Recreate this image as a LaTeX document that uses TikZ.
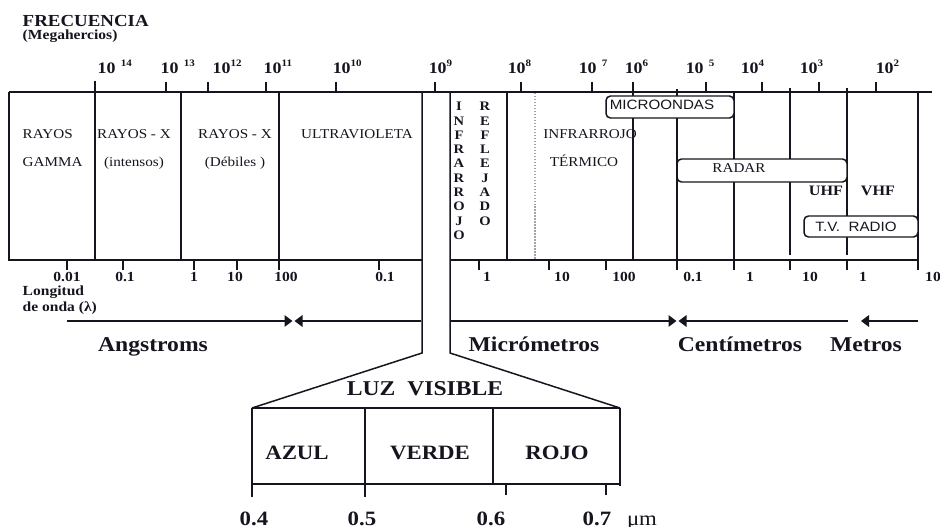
\documentclass[tikz,border=0pt]{standalone}
\usepackage{fontspec}
\setmainfont[FakeStretch=1.12]{Liberation Serif}
\newfontfamily\boxfont[FakeStretch=1.12]{Liberation Sans}
\usepackage{tikz}
\usetikzlibrary{arrows.meta,positioning,calc}
\definecolor{Ink}{HTML}{15151F}
\definecolor{DotGray}{HTML}{A0A4AA}
\newcommand\expo[1]{\raisebox{4.1pt}{\fontsize{5.6}{6}\selectfont\bfseries #1}}

\begin{document}
\begin{tikzpicture}[
    x=0.02cm, y=-0.02cm,
    line width=0.85pt, draw=Ink, text=Ink,
    title/.style={anchor=base west, inner sep=0pt, font=\fontsize{9.6}{11}\selectfont\bfseries},
    freq/.style={anchor=base west, inner sep=0pt, font=\fontsize{9.1}{10}\selectfont\bfseries},
    zone/.style={anchor=base, inner sep=0pt, font=\fontsize{7.7}{9}\selectfont},
    vcol/.style={anchor=north, inner sep=0pt, align=center, font=\fontsize{7.4}{8.14}\selectfont\bfseries},
    band/.style={anchor=base, inner sep=0pt, font=\fontsize{8.2}{9}\selectfont\bfseries},
    tagbox/.style={draw=Ink, fill=white, rounded corners=0.9mm, line width=0.85pt},
    tagtext/.style={anchor=base, inner sep=0pt, font=\fontsize{7.7}{9}\boxfont},
    wlen/.style={anchor=base, inner sep=0pt, font=\fontsize{7.9}{9}\selectfont\bfseries},
    unit/.style={anchor=base, inner sep=0pt, font=\fontsize{12}{14}\selectfont\bfseries},
    vis/.style={anchor=base, inner sep=0pt, font=\fontsize{11.6}{13}\selectfont\bfseries},
    arr/.style={-{Triangle[length=1.6mm,width=2.3mm]}, line width=0.85pt, draw=Ink}
]
\fill[white] (0,0) rectangle (940,527);
\useasboundingbox (0,0) rectangle (940,527);

\node[title] (frec) at (22,27) {FRECUENCIA};
\node[title, font=\fontsize{7.9}{9}\selectfont\bfseries] (mhz) at (22,40) {(Megahercios)};

\node[freq] (f14) at (97,74) {10\hspace{3pt}\expo{14}};
\node[freq] (f13) at (160,74) {10\hspace{3pt}\expo{13}};
\node[freq] (f12) at (212,74) {10\expo{12}};
\node[freq] (f11) at (263,74) {10\expo{11}};
\node[freq] (f10) at (332,74) {10\expo{10}};
\node[freq] (f9) at (428,74) {10\expo{9}};
\node[freq] (f8) at (507,74) {10\expo{8}};
\node[freq] (f7) at (578,74) {10\hspace{3pt}\expo{7}};
\node[freq] (f6) at (624,74) {10\expo{6}};
\node[freq] (f5) at (685,74) {10\hspace{3pt}\expo{5}};
\node[freq] (f4) at (740,74) {10\expo{4}};
\node[freq] (f3) at (799,74) {10\expo{3}};
\node[freq] (f2) at (875,74) {10\expo{2}};

\draw (9,92) -- (932,92);
\draw (9,92) -- (9,260) -- (422,260);
\draw (450,260) -- (918,260);
\draw (95,81) -- (95,260) (181,92) -- (181,260) (279,92) -- (279,270)
      (507,92) -- (507,260) (633,82) -- (633,260) (677,89) -- (677,270)
      (734,92) -- (734,270) (790,88) -- (790,255) (847,88) -- (847,255)
      (918,92) -- (918,270);
\draw (422,92) -- (422,353) -- (252,408);
\draw (450,92) -- (450,353) -- (620,408);
\draw (166,82) -- (166,92) (208,82) -- (208,92) (266,82) -- (266,92)
      (336,82) -- (336,92) (435,82) -- (435,92) (521,82) -- (521,92)
      (592,82) -- (592,92) (706,82) -- (706,92) (762,82) -- (762,92)
      (819,82) -- (819,92) (876,82) -- (876,92);
\draw (67,260) -- (67,270) (123,260) -- (123,270) (194,260) -- (194,270)
      (237,260) -- (237,270) (379,260) -- (379,270) (479,260) -- (479,270)
      (549,260) -- (549,270) (606,260) -- (606,270) (790,260) -- (790,270)
      (847,260) -- (847,270);
\draw[DotGray, densely dotted, line width=0.7pt] (535,93) -- (535,259);

\node[zone, anchor=base west] (gam1) at (22,138) {RAYOS};
\node[zone, anchor=base west] (gam2) at (22,167) {GAMMA};
\node[zone] (xin1) at (134,138) {RAYOS - X};
\node[zone] (xin2) at (134,167) {(intensos)};
\node[zone] (xdb1) at (235,138) {RAYOS - X};
\node[zone] (xdb2) at (235,167) {(Débiles )};
\node[zone] (uv) at (357,138) {ULTRAVIOLETA};
\node[vcol] (irr) at (459,101.5) {I\\N\\F\\R\\A\\R\\R\\O\\J\\O};
\node[vcol] (refl) at (485,101.5) {R\\E\\F\\L\\E\\J\\A\\D\\O};
\node[zone] (irt1) at (590,138) {INFRARROJO};
\node[zone] (irt2) at (584,167) {TÉRMICO};

\draw[tagbox] (606,96) rectangle (734,118);
\node[tagtext] (micro) at (662,110) {MICROONDAS};
\draw[tagbox] (677,159) rectangle (847,182);
\node[zone] (radar) at (739,173) {RADAR};
\node[band] (uhf) at (826,195) {UHF};
\node[band] (vhf) at (878,195) {VHF};
\draw[tagbox] (804,216) rectangle (918,237);
\node[tagtext] (tv) at (856,231) {T.V.\ \ RADIO};

\node[wlen] (w1) at (67,281) {0.01};
\node[wlen] (w2) at (125,281) {0.1};
\node[wlen] (w3) at (194,281) {1};
\node[wlen] (w4) at (235,281) {10};
\node[wlen] (w5) at (286,281) {100};
\node[wlen] (w6) at (385,281) {0.1};
\node[wlen] (w7) at (487,281) {1};
\node[wlen] (w8) at (562,281) {10};
\node[wlen] (w9) at (624,281) {100};
\node[wlen] (w10) at (693,281) {0.1};
\node[wlen] (w11) at (750,281) {1};
\node[wlen] (w12) at (810,281) {10};
\node[wlen] (w13) at (863,281) {1};
\node[wlen] (w14) at (933,281) {10};
\node[wlen, anchor=base west] (lon1) at (22,295) {Longitud};
\node[wlen, anchor=base west] (lon2) at (22,311) {de onda (λ)};

\coordinate (angL) at (67,321);
\coordinate (angA) at (292.5,321);
\coordinate (angB) at (294.5,321);
\coordinate (angR) at (421,321);
\coordinate (micL) at (450,321);
\coordinate (micA) at (676.5,321);
\coordinate (cenB) at (678.5,321);
\coordinate (cenR) at (848,321);
\coordinate (metA) at (861,321);
\coordinate (metR) at (918,321);
\draw[arr] (angL) -- (angA);
\draw[arr] (angR) -- (angB);
\draw[arr] (micL) -- (micA);
\draw[arr] (cenR) -- (cenB);
\draw[arr] (metR) -- (metA);

\node[unit] (ang) at (153,351) {Angstroms};
\node[unit] (mic) at (534,351) {Micrómetros};
\node[unit] (cen) at (740,351) {Centímetros};
\node[unit] (met) at (866,351) {Metros};

\draw (252,408) -- (620,408);
\draw (252,484) -- (620,484);
\draw (252,408) -- (252,497) (365,408) -- (365,497) (493,408) -- (493,484)
      (620,408) -- (620,486) (506,484) -- (506,495) (606,484) -- (606,495);

\node[unit] (luz) at (425,395) {LUZ\ \ VISIBLE};
\node[vis] (azul) at (297,459) {AZUL};
\node[vis] (verde) at (430,459) {VERDE};
\node[vis] (rojo) at (557,459) {ROJO};
\node[vis] (v4) at (254,525) {0.4};
\node[vis] (v5) at (362,525) {0.5};
\node[vis] (v6) at (491,525) {0.6};
\node[vis] (v7) at (597,525) {0.7};
\node[vis, font=\fontsize{11.6}{13}\selectfont] (um) at (642,525) {μm};
\end{tikzpicture}
\end{document}
